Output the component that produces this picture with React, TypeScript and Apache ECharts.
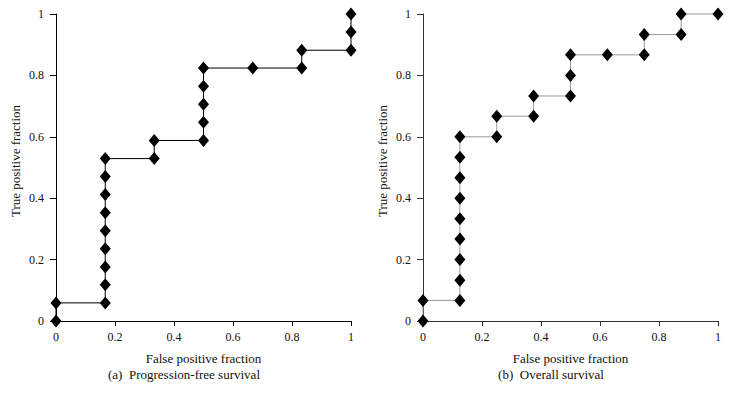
import React, { useEffect, useRef } from "react";
import * as echarts from "echarts";

const pfsFPR = [0, 0, 0.167, 0.167, 0.167, 0.167, 0.167, 0.167, 0.167, 0.167, 0.167, 0.333, 0.333, 0.5, 0.5, 0.5, 0.5, 0.5, 0.667, 0.833, 0.833, 1, 1, 1];
const pfsTPR = [0, 0.059, 0.059, 0.118, 0.176, 0.235, 0.294, 0.353, 0.412, 0.471, 0.529, 0.529, 0.588, 0.588, 0.647, 0.706, 0.765, 0.824, 0.824, 0.824, 0.882, 0.882, 0.941, 1];

const osFPR = [0, 0, 0.125, 0.125, 0.125, 0.125, 0.125, 0.125, 0.125, 0.125, 0.125, 0.25, 0.25, 0.375, 0.375, 0.5, 0.5, 0.5, 0.625, 0.75, 0.75, 0.875, 0.875, 1];
const osTPR = [0, 0.067, 0.067, 0.133, 0.2, 0.267, 0.333, 0.4, 0.467, 0.533, 0.6, 0.6, 0.667, 0.667, 0.733, 0.733, 0.8, 0.867, 0.867, 0.867, 0.933, 0.933, 1, 1];

const xTitle = "False positive fraction";
const yTitle = "True positive fraction";
const captions = ["(a)  Progression-free survival", "(b)  Overall survival"];

const FONT = "Liberation Serif, DejaVu Serif, serif";

export default function App() {
  const ref = useRef<HTMLDivElement>(null);
  useEffect(() => {
    if (!ref.current) return;
    const chart = echarts.init(ref.current, null, { renderer: "svg" });
    const lefts = [56, 423];
    const axisColors = ["#000", "#333"];
    const lineColors = ["#000", "#999"];
    const grids = lefts.map((l) => ({ left: l, top: 14, width: 295, height: 307 }));
    const mkX = (i: number) => ({
      type: "value",
      gridIndex: i,
      min: 0,
      max: 1,
      interval: 0.2,
      name: xTitle,
      nameLocation: "middle",
      nameGap: 31,
      nameTextStyle: { fontFamily: FONT, fontSize: 13, color: "#111" },
      axisLine: { show: true, lineStyle: { color: axisColors[i], width: 1 } },
      axisTick: { show: true, length: 5, lineStyle: { color: axisColors[i] } },
      axisLabel: { fontFamily: FONT, fontSize: 12, color: "#111", margin: 10 },
      splitLine: { show: false },
    });
    const mkY = (i: number) => ({
      type: "value",
      gridIndex: i,
      min: 0,
      max: 1,
      interval: 0.2,
      axisLine: { show: true, lineStyle: { color: axisColors[i], width: 1 } },
      axisTick: { show: true, length: 6, lineStyle: { color: axisColors[i] } },
      axisLabel: { fontFamily: FONT, fontSize: 12, color: "#111", margin: 12 },
      splitLine: { show: false },
    });
    const mkSeries = (i: number, xs: number[], ys: number[]) => ({
      type: "line",
      xAxisIndex: i,
      yAxisIndex: i,
      data: xs.map((x, k) => [x, ys[k]]),
      symbol: "diamond",
      symbolSize: [11, 13],
      clip: false,
      lineStyle: { color: lineColors[i], width: 1 },
      itemStyle: { color: "#000" },
    });
    const txt = (text: string, x: number, y: number, rotation = 0) => ({
      type: "text",
      x,
      y,
      rotation,
      style: { text, fontFamily: FONT, fontSize: 13, fill: "#111", textAlign: "center", textVerticalAlign: "middle" },
    });
    chart.setOption({
      animation: false,
      backgroundColor: "#fff",
      grid: grids,
      xAxis: [mkX(0), mkX(1)],
      yAxis: [mkY(0), mkY(1)],
      series: [mkSeries(0, pfsFPR, pfsTPR), mkSeries(1, osFPR, osTPR)],
      graphic: [
        txt(captions[0], 184, 374),
        txt(captions[1], 551, 374),
        txt(yTitle, 15, 161, Math.PI / 2),
        txt(yTitle, 382, 161, Math.PI / 2),
      ],
    });
    return () => chart.dispose();
  }, []);
  return <div ref={ref} style={{ width: 732, height: 410, position: "absolute", left: 0, top: 0 }} />;
}
